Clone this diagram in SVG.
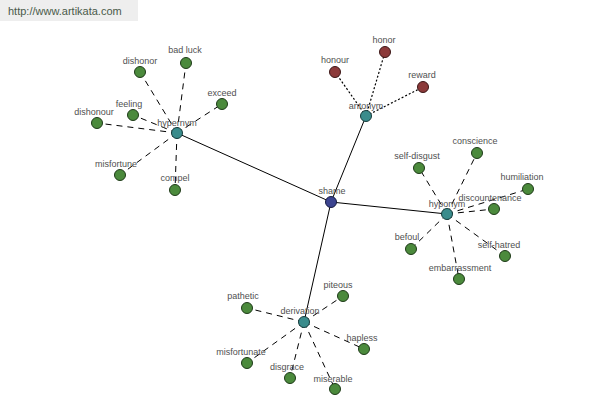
<svg xmlns="http://www.w3.org/2000/svg" width="600" height="400" viewBox="0 0 600 400">
<style>
text{font-family:"Liberation Sans",Arial,sans-serif;font-size:9px;fill:#505050;text-anchor:middle}
.solid{stroke:#000;stroke-width:1;fill:none}
.dash{stroke:#000;stroke-width:1;stroke-dasharray:6,5;fill:none}
.dot{stroke:#000;stroke-width:1.2;stroke-dasharray:2,2;fill:none}
.leaf{fill:#4b8a3c;stroke:#1e3a18;stroke-width:1}
.rel{fill:#3a8c8c;stroke:#163c3c;stroke-width:1}
.root{fill:#3c4490;stroke:#161a40;stroke-width:1}
.ant{fill:#8c3a3a;stroke:#3c1616;stroke-width:1}
</style>
<rect x="0" y="0" width="138" height="21" fill="#eeeeee"/>
<text x="8" y="15" style="text-anchor:start;font-size:11px;fill:#4a5a4a">http://www.artikata.com</text>
<g id="connectors">
<line class="solid" x1="331" y1="202" x2="177" y2="133"/>
<line class="solid" x1="331" y1="202" x2="366" y2="116"/>
<line class="solid" x1="331" y1="202" x2="447" y2="214"/>
<line class="solid" x1="331" y1="202" x2="304" y2="322"/>
<line class="dash" x1="177" y1="133" x2="140" y2="72"/>
<line class="dash" x1="177" y1="133" x2="186" y2="63"/>
<line class="dash" x1="177" y1="133" x2="222" y2="104"/>
<line class="dash" x1="177" y1="133" x2="133" y2="115"/>
<line class="dash" x1="177" y1="133" x2="97" y2="123"/>
<line class="dash" x1="177" y1="133" x2="120" y2="175"/>
<line class="dash" x1="177" y1="133" x2="175" y2="190"/>
<line class="dot" x1="366" y1="116" x2="335" y2="72"/>
<line class="dot" x1="366" y1="116" x2="385" y2="52"/>
<line class="dot" x1="366" y1="116" x2="423" y2="87"/>
<line class="dash" x1="447" y1="214" x2="477" y2="153"/>
<line class="dash" x1="447" y1="214" x2="419" y2="168"/>
<line class="dash" x1="447" y1="214" x2="528" y2="189"/>
<line class="dash" x1="447" y1="214" x2="494" y2="209"/>
<line class="dash" x1="447" y1="214" x2="411" y2="249"/>
<line class="dash" x1="447" y1="214" x2="505" y2="256"/>
<line class="dash" x1="447" y1="214" x2="459" y2="279"/>
<line class="dash" x1="304" y1="322" x2="343" y2="296"/>
<line class="dash" x1="304" y1="322" x2="247" y2="308"/>
<line class="dash" x1="304" y1="322" x2="364" y2="349"/>
<line class="dash" x1="304" y1="322" x2="247" y2="363"/>
<line class="dash" x1="304" y1="322" x2="290" y2="378"/>
<line class="dash" x1="304" y1="322" x2="335" y2="389"/>
</g>
<g id="n-shame"><circle class="root" cx="331" cy="202" r="5.5"/><text x="332" y="194">shame</text></g>
<g id="n-hypernym"><circle class="rel" cx="177" cy="133" r="5.5"/><text x="177" y="126">hypernym</text></g>
<g id="n-antonym"><circle class="rel" cx="366" cy="116" r="5.5"/><text x="366" y="109">antonym</text></g>
<g id="n-hyponym"><circle class="rel" cx="447" cy="214" r="5.5"/><text x="447" y="207">hyponym</text></g>
<g id="n-derivation"><circle class="rel" cx="304" cy="322" r="5.5"/><text x="300" y="314">derivation</text></g>
<g id="n-dishonor"><circle class="leaf" cx="140" cy="72" r="5.5"/><text x="140" y="64">dishonor</text></g>
<g id="n-badluck"><circle class="leaf" cx="186" cy="63" r="5.5"/><text x="185" y="53">bad luck</text></g>
<g id="n-exceed"><circle class="leaf" cx="222" cy="104" r="5.5"/><text x="222" y="96">exceed</text></g>
<g id="n-feeling"><circle class="leaf" cx="133" cy="115" r="5.5"/><text x="129" y="107">feeling</text></g>
<g id="n-dishonour"><circle class="leaf" cx="97" cy="123" r="5.5"/><text x="94" y="115">dishonour</text></g>
<g id="n-misfortune"><circle class="leaf" cx="120" cy="175" r="5.5"/><text x="116" y="167">misfortune</text></g>
<g id="n-compel"><circle class="leaf" cx="175" cy="190" r="5.5"/><text x="175" y="181">compel</text></g>
<g id="n-honour"><circle class="ant" cx="335" cy="72" r="5.5"/><text x="335" y="63">honour</text></g>
<g id="n-honor"><circle class="ant" cx="385" cy="52" r="5.5"/><text x="384" y="43">honor</text></g>
<g id="n-reward"><circle class="ant" cx="423" cy="87" r="5.5"/><text x="422" y="78">reward</text></g>
<g id="n-conscience"><circle class="leaf" cx="477" cy="153" r="5.5"/><text x="475" y="144">conscience</text></g>
<g id="n-selfdisgust"><circle class="leaf" cx="419" cy="168" r="5.5"/><text x="417" y="159">self-disgust</text></g>
<g id="n-humiliation"><circle class="leaf" cx="528" cy="189" r="5.5"/><text x="522" y="180">humiliation</text></g>
<g id="n-discountenance"><circle class="leaf" cx="494" cy="209" r="5.5"/><text x="490" y="201">discountenance</text></g>
<g id="n-befoul"><circle class="leaf" cx="411" cy="249" r="5.5"/><text x="407" y="240">befoul</text></g>
<g id="n-selfhatred"><circle class="leaf" cx="505" cy="256" r="5.5"/><text x="499" y="248">self-hatred</text></g>
<g id="n-embarrassment"><circle class="leaf" cx="459" cy="279" r="5.5"/><text x="460" y="271">embarrassment</text></g>
<g id="n-piteous"><circle class="leaf" cx="343" cy="296" r="5.5"/><text x="338" y="288">piteous</text></g>
<g id="n-pathetic"><circle class="leaf" cx="247" cy="308" r="5.5"/><text x="243" y="299">pathetic</text></g>
<g id="n-hapless"><circle class="leaf" cx="364" cy="349" r="5.5"/><text x="362" y="341">hapless</text></g>
<g id="n-misfortunate"><circle class="leaf" cx="247" cy="363" r="5.5"/><text x="241" y="355">misfortunate</text></g>
<g id="n-disgrace"><circle class="leaf" cx="290" cy="378" r="5.5"/><text x="287" y="370">disgrace</text></g>
<g id="n-miserable"><circle class="leaf" cx="335" cy="389" r="5.5"/><text x="333" y="382">miserable</text></g>
</svg>
